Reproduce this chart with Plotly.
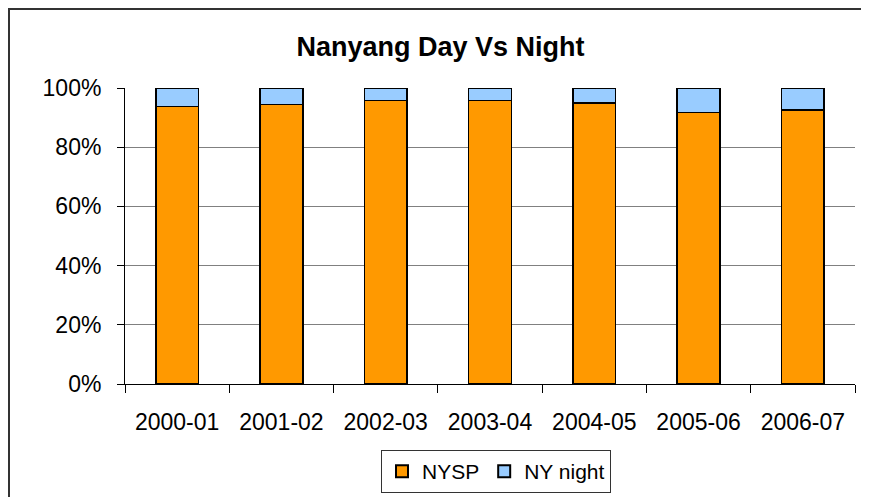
import plotly.graph_objects as go

categories = ["2000-01", "2001-02", "2002-03", "2003-04", "2004-05", "2005-06", "2006-07"]
nysp = [93.8, 94.5, 95.7, 95.7, 95.0, 91.8, 92.5]
ny_night = [6.2, 5.5, 4.3, 4.3, 5.0, 8.2, 7.5]
y_ticks = [0, 20, 40, 60, 80, 100]
y_tick_labels = ["0%", "20%", "40%", "60%", "80%", "100%"]

# page has an 8px body margin; figure origin sits at page (8, 8)
W, H = 861, 489
L, R, T, B = 117, 14, 80, 113
pw, ph = W - L - R, H - T - B

font = "Liberation Sans, Arial, sans-serif"

fig = go.Figure()
fig.add_trace(go.Bar(x=categories, y=nysp, name="NYSP",
                     marker=dict(color="#FF9900", line=dict(color="black", width=1.5))))
fig.add_trace(go.Bar(x=categories, y=ny_night, name="NY night",
                     marker=dict(color="#99CCFF", line=dict(color="black", width=1.5))))

def px_x(x):
    return (x - L) / pw

def px_y(y):
    return (H - B - y) / ph

fig.update_layout(
    width=W, height=H,
    margin=dict(l=L, r=R, t=T, b=B, autoexpand=False),
    barmode="stack", bargap=0.59,
    paper_bgcolor="white", plot_bgcolor="white",
    font=dict(family=font, size=23, color="black"),
    title=dict(text="<b>Nanyang Day Vs Night</b>", x=432.5 / W, xanchor="center",
               y=1 - 38.5 / H, yanchor="middle", font=dict(size=27, family=font)),
    xaxis=dict(type="category", tickson="boundaries", ticks="outside", ticklen=8,
               tickcolor="black", showline=True, linecolor="black", linewidth=1,
               showgrid=False, ticklabelstandoff=17, tickfont=dict(size=23)),
    yaxis=dict(range=[0, 100], tickvals=y_ticks, ticktext=y_tick_labels,
               ticks="outside", ticklen=7, tickcolor="black", showline=True,
               linecolor="black", linewidth=1, showgrid=True, gridcolor="#808080",
               gridwidth=1, zeroline=False, ticklabelstandoff=11, tickfont=dict(size=23)),
    legend=dict(orientation="h", xref="container", yref="container",
                x=488 / W, xanchor="center", y=1 - 442 / H, yanchor="top",
                bordercolor="#333333", borderwidth=1, bgcolor="white",
                font=dict(size=21, family=font), itemsizing="constant", traceorder="normal"),
    shapes=[dict(type="rect", xref="paper", yref="paper",
                 x0=px_x(1), x1=px_x(W + 20), y0=px_y(H + 20), y1=px_y(1),
                 line=dict(color="#333333", width=2), fillcolor="rgba(0,0,0,0)", layer="below")],
)

fig.write_html("out.html")
